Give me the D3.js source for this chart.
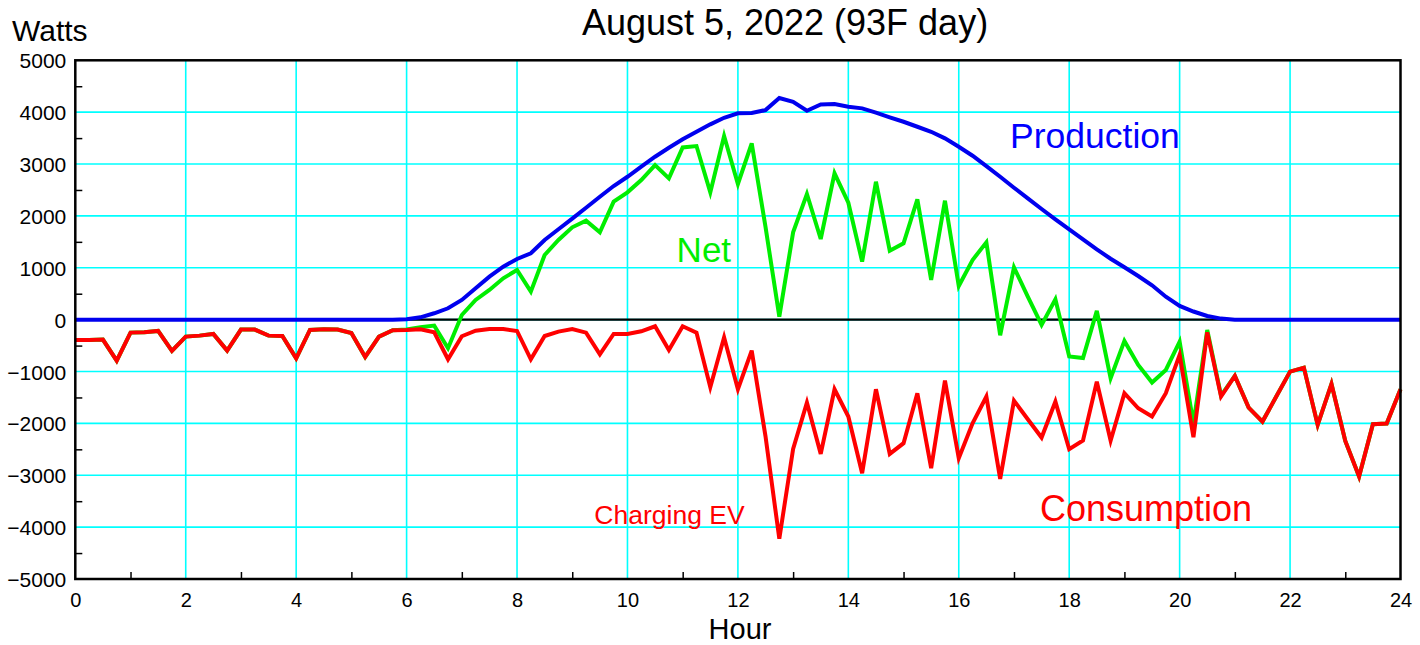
<!DOCTYPE html>
<html>
<head>
<meta charset="utf-8">
<script src="https://cdn.jsdelivr.net/npm/d3@7"></script>
<style>
  html, body { margin: 0; padding: 0; background: #fff; }
  svg { display: block; font-family: "Liberation Sans", Arial, Helvetica, sans-serif; }
</style>
</head>
<body>
<svg id="chart" width="1420" height="645"></svg>
<script>
// ---- Data (15-minute samples, hour of day) ----
const hours = [
  0,0.25,0.5,0.75,1,1.25,1.5,1.75,2,2.25,2.5,2.75,3,3.25,3.5,3.75,
  4,4.25,4.5,4.75,5,5.25,5.5,5.75,6,6.25,6.5,6.75,7,7.25,7.5,7.75,
  8,8.25,8.5,8.75,9,9.25,9.5,9.75,10,10.25,10.5,10.75,11,11.25,11.5,11.75,
  12,12.25,12.5,12.75,13,13.25,13.5,13.75,14,14.25,14.5,14.75,15,15.25,15.5,15.75,
  16,16.25,16.5,16.75,17,17.25,17.5,17.75,18,18.25,18.5,18.75,19,19.25,19.5,19.75,
  20,20.25,20.5,20.75,21,21.25,21.5,21.75,22,22.25,22.5,22.75,23,23.25,23.5,23.75,24
];

const production = [
  0,0,0,0,0,0,0,0,0,0,0,0,0,0,0,0,
  0,0,0,0,0,0,0,0,10,45,123,219,380,605,829,1021,
  1170,1279,1536,1742,1946,2158,2370,2576,2755,2948,3141,3314,3476,3622,3765,3892,
  3977,3983,4040,4272,4201,4027,4150,4156,4104,4073,3990,3900,3815,3719,3622,3495,
  3333,3160,2961,2755,2543,2339,2133,1934,1742,1549,1356,1175,1009,842,663,443,
  264,157,71,20,0,0,0,0,0,0,0,0,0,0,0,0,0
];

const consumption = [
  -390,-390,-385,-790,-250,-245,-218,-603,-327,-308,-276,-597,-192,-192,-308,-315,
  -745,-199,-186,-192,-257,-719,-327,-205,-199,-186,-244,-764,-320,-212,-180,-180,
  -218,-764,-315,-231,-180,-250,-668,-276,-276,-225,-128,-584,-128,-250,-1303,-340,
  -1342,-597,-2250,-4225,-2491,-1599,-2588,-1342,-1868,-2960,-1342,-2588,-2382,-1419,-2864,-1175,
  -2671,-1997,-1483,-3069,-1560,-1920,-2273,-1580,-2498,-2331,-1194,-2331,-1419,-1708,-1868,-1419,
  -680,-2267,-244,-1483,-1085,-1695,-1965,-1483,-1001,-925,-2029,-1239,-2337,-3025,-2016,-2003,-1342
];

const net = [
  -390,-390,-385,-790,-250,-245,-218,-603,-327,-308,-276,-597,-192,-192,-308,-315,
  -745,-199,-186,-192,-257,-719,-327,-205,-190,-145,-115,-550,90,380,572,797,
  958,540,1247,1536,1780,1908,1683,2274,2454,2692,2981,2724,3321,3347,2454,3540,
  2615,3399,1790,58,1683,2422,1555,2821,2254,1118,2659,1330,1472,2320,765,2293,
  649,1150,1491,-301,1009,443,-102,393,-710,-740,168,-1130,-410,-873,-1213,-969,
  -424,-2000,-198,-1463,-1085,-1695,-1965,-1483,-1001,-925,-2029,-1239,-2337,-3025,-2016,-2003,-1342
];

const yTicks = [-5000,-4000,-3000,-2000,-1000,0,1000,2000,3000,4000,5000];
const yMinorTicks = [-4500,-3500,-2500,-1500,-500,500,1500,2500,3500,4500];
const xTicks = [0,2,4,6,8,10,12,14,16,18,20,22,24];
const xMinorTicks = [1,3,5,7,9,11,13,15,17,19,21,23];

const titleText = "August 5, 2022 (93F day)";
const yLabelText = "Watts";
const xLabelText = "Hour";
const annotations = [
  { text: "Production", color: "#0000ff", hour: 16.93, value: 3300, size: 35.5 },
  { text: "Net", color: "#00ee00", hour: 10.89, value: 1120, size: 35 },
  { text: "Consumption", color: "#ff0000", hour: 17.47, value: -3890, size: 36 },
  { text: "Charging EV", color: "#ff0000", hour: 9.4, value: -3940, size: 26.5 }
];

// ---- Layout ----
const svg = d3.select("#chart");
const pLeft = 75.3, pRight = 1400.5, pTop = 60.3, pBottom = 579;

const x = d3.scaleLinear().domain([0, 24]).range([pLeft, pRight]);
const y = d3.scaleLinear().domain([-5000, 5000]).range([pBottom, pTop]);

// Grid
const grid = svg.append("g");
grid.selectAll("line.v").data(xTicks.filter(d => d > 0 && d < 24)).enter().append("line")
  .attr("x1", d => x(d)).attr("x2", d => x(d))
  .attr("y1", pTop).attr("y2", pBottom)
  .attr("stroke", "#00ffff").attr("stroke-width", 1.6);
grid.selectAll("line.h").data(yTicks.filter(d => d > -5000 && d < 5000)).enter().append("line")
  .attr("x1", pLeft).attr("x2", pRight)
  .attr("y1", d => y(d)).attr("y2", d => y(d))
  .attr("stroke", "#00ffff").attr("stroke-width", 1.6);

// Zero line
svg.append("line")
  .attr("x1", pLeft).attr("x2", pRight)
  .attr("y1", y(0)).attr("y2", y(0))
  .attr("stroke", "#000").attr("stroke-width", 2.2);

// Lines
const line = vals => d3.line().x((d, i) => x(hours[i])).y(d => y(d))(vals);
const series = [
  { vals: net, color: "#00ee00" },
  { vals: consumption, color: "#ff0000" },
  { vals: production, color: "#0000ee" }
];
series.forEach(s => {
  svg.append("path")
    .attr("d", line(s.vals))
    .attr("fill", "none")
    .attr("stroke", s.color)
    .attr("stroke-width", 4)
    .attr("stroke-linejoin", "miter")
    .attr("stroke-miterlimit", 4);
});

// Border
svg.append("rect")
  .attr("x", pLeft).attr("y", pTop)
  .attr("width", pRight - pLeft).attr("height", pBottom - pTop)
  .attr("fill", "none").attr("stroke", "#000").attr("stroke-width", 2.5);

// Axes
const fontFam = '"Liberation Sans", Arial, Helvetica, sans-serif';
const yAxis = d3.axisLeft(y).tickValues(yTicks).tickSize(0).tickPadding(9).tickFormat(d3.format("d"));
const gy = svg.append("g").attr("transform", `translate(${pLeft},0)`).call(yAxis);
gy.select(".domain").remove();
gy.selectAll("text").attr("font-size", 21).attr("font-family", fontFam).attr("fill", "#000").attr("dy", "0.36em");

const yMinor = d3.axisRight(y).tickValues(yMinorTicks).tickSize(7).tickFormat("");
const gym = svg.append("g").attr("transform", `translate(${pLeft},0)`).call(yMinor);
gym.select(".domain").remove();
gym.selectAll("line").attr("stroke", "#000").attr("stroke-width", 1.5);

const xAxis = d3.axisBottom(x).tickValues(xTicks).tickSize(0).tickPadding(14).tickFormat(d3.format("d"));
const gx = svg.append("g").attr("transform", `translate(0,${pBottom})`).call(xAxis);
gx.select(".domain").remove();
gx.selectAll("text").attr("font-size", 20).attr("font-family", fontFam).attr("fill", "#000");

const xMinor = d3.axisTop(x).tickValues(xMinorTicks).tickSize(7).tickFormat("");
const gxm = svg.append("g").attr("transform", `translate(0,${pBottom})`).call(xMinor);
gxm.select(".domain").remove();
gxm.selectAll("line").attr("stroke", "#000").attr("stroke-width", 1.5);

// Titles
svg.append("text").attr("x", 785).attr("y", 35).attr("text-anchor", "middle")
  .attr("font-size", 36).attr("fill", "#000").text(titleText);
svg.append("text").attr("x", 12).attr("y", 41).attr("text-anchor", "start")
  .attr("font-size", 30).attr("fill", "#000").text(yLabelText);
svg.append("text").attr("x", 740).attr("y", 639).attr("text-anchor", "middle")
  .attr("font-size", 29).attr("fill", "#000").text(xLabelText);

// Annotations
annotations.forEach(a => {
  svg.append("text")
    .attr("x", x(a.hour)).attr("y", y(a.value))
    .attr("text-anchor", "start")
    .attr("font-size", a.size).attr("fill", a.color).text(a.text);
});
</script>
</body>
</html>
